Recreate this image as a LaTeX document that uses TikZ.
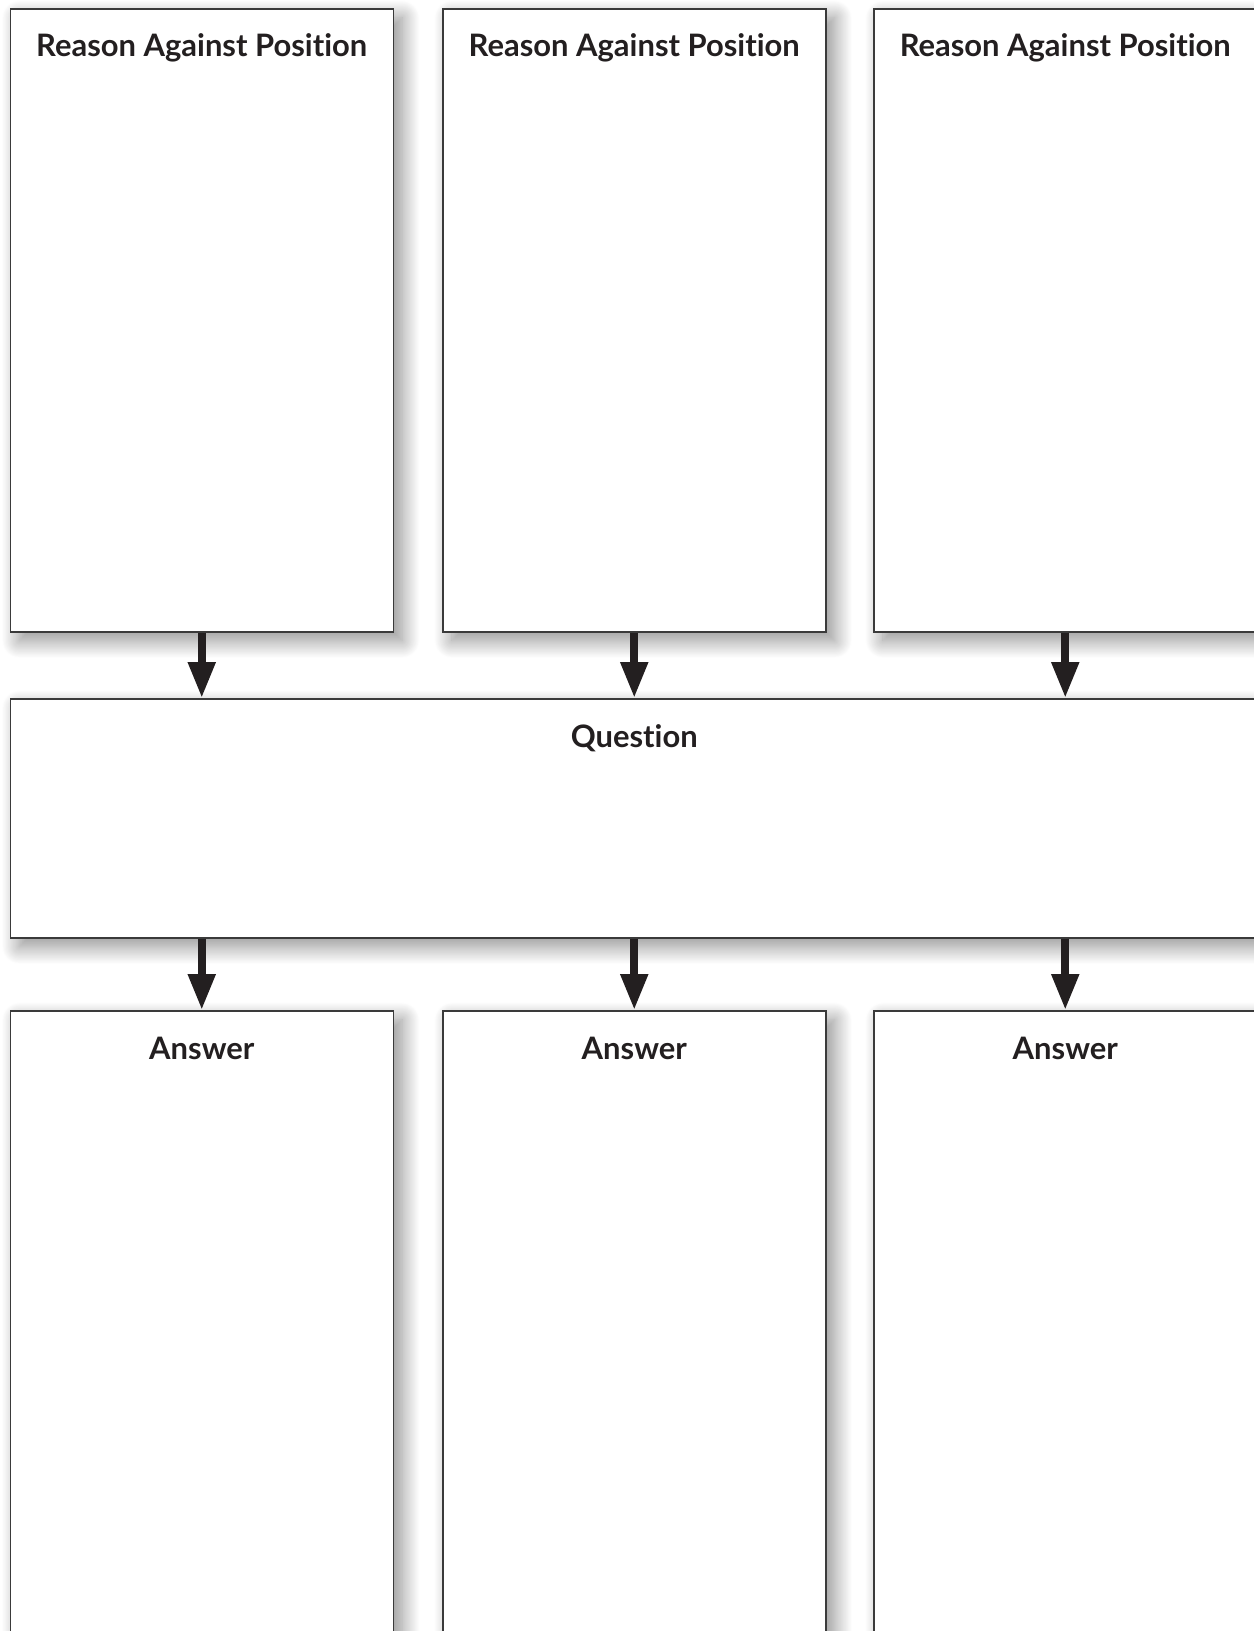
\documentclass[tikz,border=0pt]{standalone}
\usepackage{fontspec}
\setmainfont{Lato}[Ligatures=NoCommon]
\usetikzlibrary{arrows.meta, positioning, shadows.blur}
\definecolor{ink}{HTML}{231F20}
\definecolor{edge}{HTML}{3A3A3A}

\begin{document}
\begin{tikzpicture}[x=0.2mm, y=0.2mm,
  box/.style={draw=edge, line width=0.3mm, fill=white, anchor=north west, inner sep=0pt,
    blur shadow={shadow xshift=1.8mm, shadow yshift=-1.8mm, shadow blur radius=3.5mm,
      shadow blur steps=25, shadow opacity=45}},
  head/.style={font=\bfseries\fontsize{17.6}{20}\selectfont, text=ink, anchor=base},
  arr/.style={-{Triangle[length=7.2mm, width=5.2mm]}, line width=1.6mm, draw=ink}
]
\useasboundingbox (0,0) rectangle (1254,-1631);
\clip (0,0) rectangle (1254,-1631);

% reasons against position
\node[box, minimum width=76.6mm, minimum height=124.6mm] (r1) at (9.5,-8) {};
\node[box, minimum width=76.6mm, minimum height=124.6mm] (r2) at (442,-8) {};
\node[box, minimum width=76.6mm, minimum height=124.6mm] (r3) at (873,-8) {};
\node[head] (h1) at ([yshift=-9.6mm]r1.north) {Reason Against Position};
\node[head] (h2) at ([yshift=-9.6mm]r2.north) {Reason Against Position};
\node[head] (h3) at ([yshift=-9.6mm]r3.north) {Reason Against Position};

% question
\node[box, minimum width=251mm, minimum height=47.8mm] (q) at (9.5,-698) {};
\node[head] (hq) at ([yshift=-9.8mm]r2.south |- q.north) {Question};

% answers
\node[box, minimum width=76.6mm, minimum height=134mm] (a1) at (9.5,-1010) {};
\node[box, minimum width=76.6mm, minimum height=134mm] (a2) at (442,-1010) {};
\node[box, minimum width=76.6mm, minimum height=134mm] (a3) at (873,-1010) {};
\node[head] (ha1) at ([yshift=-9.8mm]a1.north) {Answer};
\node[head] (ha2) at ([yshift=-9.8mm]a2.north) {Answer};
\node[head] (ha3) at ([yshift=-9.8mm]a3.north) {Answer};

\draw[arr] (r1.south) -- (r1.south |- q.north);
\draw[arr] (r2.south) -- (r2.south |- q.north);
\draw[arr] (r3.south) -- (r3.south |- q.north);
\draw[arr] (q.south -| a1.north) -- (a1.north);
\draw[arr] (q.south -| a2.north) -- (a2.north);
\draw[arr] (q.south -| a3.north) -- (a3.north);
\end{tikzpicture}
\end{document}
